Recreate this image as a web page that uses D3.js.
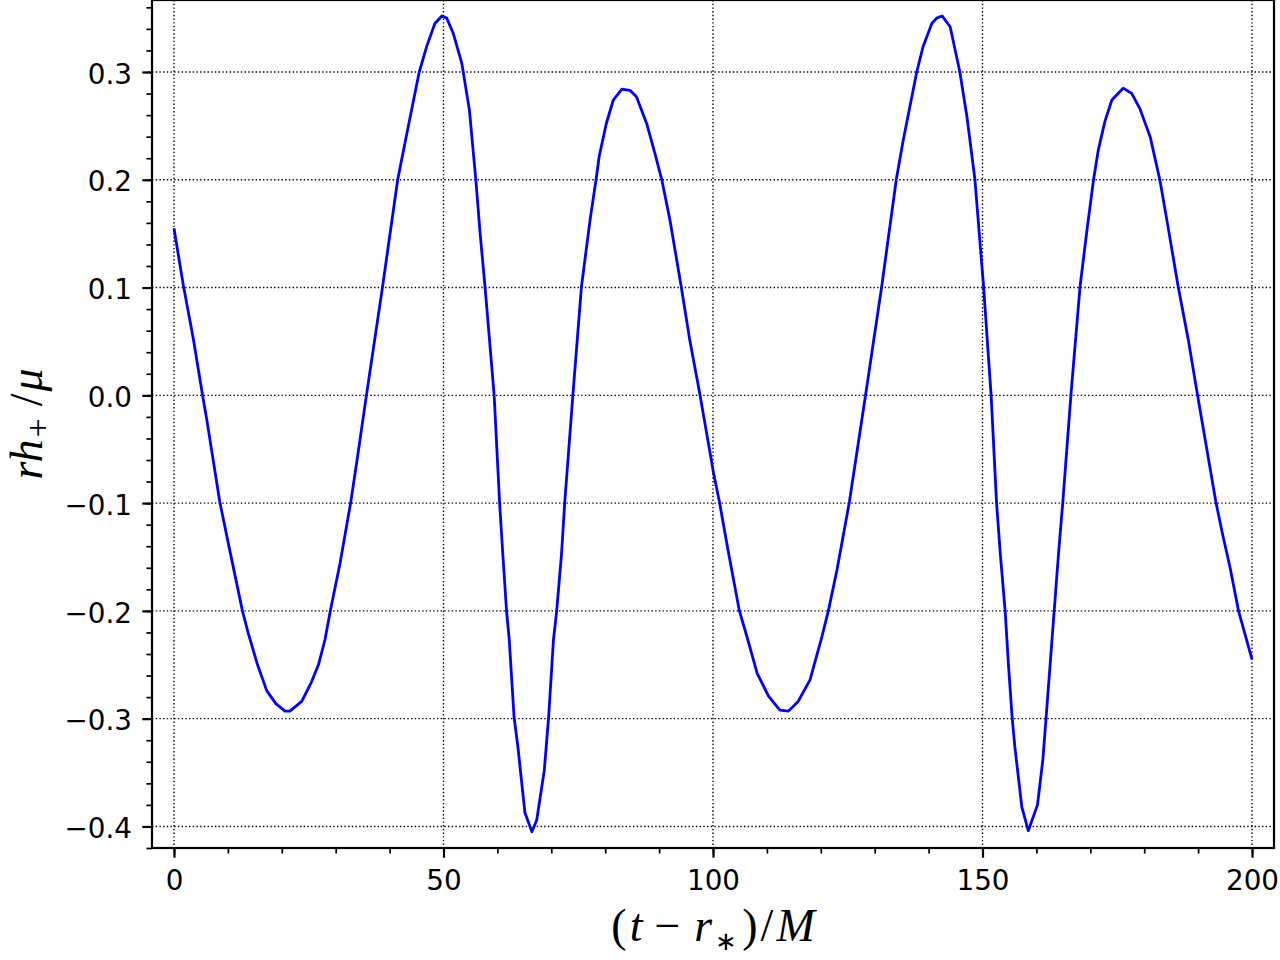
<!DOCTYPE html>
<html>
<head>
<meta charset="utf-8">
<title>rh+ waveform</title>
<script src="https://d3js.org/d3.v7.min.js"></script>
<style>
    body { margin: 0; background: #fff; }
    .tick text { font-family: "DejaVu Sans", sans-serif; font-size: 27.8px; fill: #000; }
    .tick line { stroke: #000; }
    .grid line { stroke: #000; stroke-width: 1.4; stroke-dasharray: 1.4, 2.3; }
    .mathlabel { font-family: "Liberation Serif", "Times New Roman", serif; font-size: 46px; fill: #000; }
</style>
</head>
<body>
<script>
// waveform samples
var times = [0.0, 1.7, 3.6, 5.3, 6.1, 8.5, 10.4, 12.7, 13.8, 15.5, 17.2, 18.9, 20.6, 21.5, 23.7, 25.5,
    26.8, 28.0, 29.0, 30.8, 32.8, 34.2, 35.7, 38.7, 41.5, 43.2, 45.5, 46.9, 48.4, 49.7, 50.6,
    51.8, 53.4, 54.8, 56.0, 56.8, 57.7, 58.8, 59.4, 60.4, 61.0, 61.7, 62.2, 63.1, 63.8, 65.1, 66.4,
    67.3, 68.7, 69.5, 70.4, 71.0, 71.9, 72.5, 74.0, 75.6, 77.2, 78.3, 78.9, 80.2, 81.5, 83.1,
    84.6, 85.8, 87.7, 89.2, 90.5, 92.0, 94.1, 95.7, 97.6, 98.4, 100.1, 101.2, 102.8, 104.9, 106.3,
    108.2, 110.3, 112.4, 114.0, 115.8, 118.0, 120.2, 121.4, 123.0, 125.3, 128.3, 131.3, 134.0,
    135.3, 137.8, 139.0, 140.6, 141.5, 142.5, 144.0, 145.8, 147.1, 148.6, 149.4, 150.2, 151.1, 151.6,
    152.6, 153.3, 154.2, 154.8, 155.5, 156.0, 157.3, 158.5, 160.2, 161.2, 161.8, 162.8, 163.3, 164.1,
    164.9, 166.4, 168.1, 169.3, 170.6, 171.5, 172.7, 174.0, 176.1, 177.7, 179.2, 181.1, 182.9, 184.4,
    186.3, 188.2, 189.9, 193.3, 194.5, 195.9, 197.5, 200.0];
var values = [0.155, 0.103, 0.052, 0.0, -0.023, -0.099, -0.145, -0.200, -0.221, -0.250, -0.274, -0.286,
    -0.293, -0.293, -0.284, -0.266, -0.250, -0.227, -0.200, -0.156, -0.099, -0.052, 0.0,
    0.101, 0.200, 0.243, 0.300, 0.324, 0.345, 0.352, 0.350, 0.336, 0.308, 0.265, 0.200, 0.150, 0.101,
    0.036, 0.0, -0.099, -0.147, -0.200, -0.227, -0.299, -0.326, -0.387, -0.405, -0.394, -0.348, -0.299,
    -0.227, -0.200, -0.147, -0.099, 0.0, 0.101, 0.163, 0.200, 0.222, 0.252, 0.274, 0.284,
    0.283, 0.277, 0.252, 0.225, 0.200, 0.163, 0.101, 0.051, 0.0, -0.023, -0.072, -0.099, -0.144,
    -0.200, -0.224, -0.258, -0.279, -0.292, -0.293, -0.284, -0.264, -0.224, -0.200, -0.162, -0.099,
    0.0, 0.101, 0.200, 0.237, 0.300, 0.324, 0.345, 0.350, 0.352, 0.342, 0.300, 0.259, 0.200,
    0.150, 0.101, 0.036, 0.0, -0.099, -0.147, -0.200, -0.249, -0.299, -0.326, -0.382, -0.404, -0.380,
    -0.338, -0.299, -0.233, -0.200, -0.147, -0.099, 0.0, 0.101, 0.150, 0.200, 0.228, 0.254, 0.274,
    0.285, 0.280, 0.266, 0.240, 0.200, 0.157, 0.101, 0.051, 0.0, -0.099, -0.128, -0.159,
    -0.200, -0.245];

var xTicks = [0, 50, 100, 150, 200];
var xMinorTicks = d3.range(0, 201, 10);
var yTicks = [-0.4, -0.3, -0.2, -0.1, 0.0, 0.1, 0.2, 0.3];
var yMinorTicks = d3.range(-42, 37, 2).map(function(d){ return d / 100; });

var W = 1280, H = 960;
var box = {left: 152, right: 1274, top: 0, bottom: 848};

var svg = d3.select('body').append('svg')
    .attr('width', W)
    .attr('height', H);

var x = d3.scaleLinear().domain([-4.08, 204.08]).range([box.left, box.right]);
var y = d3.scaleLinear().domain([-0.42, 0.3668]).range([box.bottom, box.top]);

var minus = function(s){ return s.replace('-', '\u2212'); };

// GRID //
var grid = svg.append('g').attr('class', 'grid');
grid.selectAll('.gx').data(xTicks).enter().append('line')
    .attr('x1', function(d){ return x(d); }).attr('x2', function(d){ return x(d); })
    .attr('y1', box.top).attr('y2', box.bottom);
grid.selectAll('.gy').data(yTicks).enter().append('line')
    .attr('y1', function(d){ return y(d); }).attr('y2', function(d){ return y(d); })
    .attr('x1', box.left).attr('x2', box.right);

// CURVE //
var pts = times.map(function(t, i){ return [t, values[i]]; });
var line = d3.line()
    .x(function(d){ return x(d[0]); })
    .y(function(d){ return y(d[1]); });

svg.append('path')
    .datum(pts)
    .attr('d', line)
    .attr('fill', 'none')
    .attr('stroke', '#0000ff')
    .attr('stroke-width', 2.8)
    .attr('stroke-linejoin', 'round');

// AXES //
var xMinorAxis = svg.append('g')
    .attr('transform', 'translate(0,' + box.bottom + ')')
    .call(d3.axisBottom(x).tickValues(xMinorTicks).tickSize(5.6).tickSizeOuter(0).tickFormat(''));
var xAxis = svg.append('g')
    .attr('transform', 'translate(0,' + box.bottom + ')')
    .call(d3.axisBottom(x).tickValues(xTicks).tickSize(9.7).tickSizeOuter(0).tickPadding(13)
        .tickFormat(d3.format('d')));

var yMinorAxis = svg.append('g')
    .attr('transform', 'translate(' + box.left + ',0)')
    .call(d3.axisLeft(y).tickValues(yMinorTicks).tickSize(5.6).tickSizeOuter(0).tickFormat(''));
var yAxis = svg.append('g')
    .attr('transform', 'translate(' + box.left + ',0)')
    .call(d3.axisLeft(y).tickValues(yTicks).tickSize(9.7).tickSizeOuter(0).tickPadding(10.3)
        .tickFormat(function(d){ return minus(d3.format('.1f')(d)); }));

svg.selectAll('.domain').remove();
xMinorAxis.selectAll('line').attr('stroke-width', 1.7);
yMinorAxis.selectAll('line').attr('stroke-width', 1.7);
xAxis.selectAll('line').attr('stroke-width', 2.2);
yAxis.selectAll('line').attr('stroke-width', 2.2);
yAxis.selectAll('text').attr('dy', '0.40em');

// frame
svg.append('rect')
    .attr('x', box.left).attr('y', box.top)
    .attr('width', box.right - box.left).attr('height', box.bottom - box.top)
    .attr('fill', 'none').attr('stroke', '#000').attr('stroke-width', 2.2);

// LABELS //
var xl = svg.append('text')
    .attr('class', 'mathlabel')
    .attr('x', (box.left + box.right) / 2)
    .attr('y', 941)
    .attr('text-anchor', 'middle');
xl.append('tspan').text('(');
xl.append('tspan').attr('font-style', 'italic').attr('dx', 3).text('t');
xl.append('tspan').attr('dx', 12).text('\u2212');
xl.append('tspan').attr('font-style', 'italic').attr('dx', 14).text('r');
xl.append('tspan').attr('font-size', '26px').attr('dx', 3).attr('dy', 9).text('\u2217');
xl.append('tspan').attr('dx', 5).attr('dy', -9).text(')');
xl.append('tspan').attr('dx', 3).text('/');
xl.append('tspan').attr('font-style', 'italic').attr('dx', 3).text('M');

var yl = svg.append('text')
    .attr('class', 'mathlabel')
    .attr('transform', 'translate(42,' + ((box.top + box.bottom) / 2) + ') rotate(-90)')
    .attr('text-anchor', 'middle');
yl.append('tspan').attr('font-style', 'italic').text('rh');
yl.append('tspan').attr('font-size', '34px').attr('dx', 2).attr('dy', 7).text('+');
yl.append('tspan').attr('dx', 12).attr('dy', -7).text('/');
yl.append('tspan').attr('font-style', 'italic').attr('dx', 2).text('\u03bc');
</script>
</body>
</html>
